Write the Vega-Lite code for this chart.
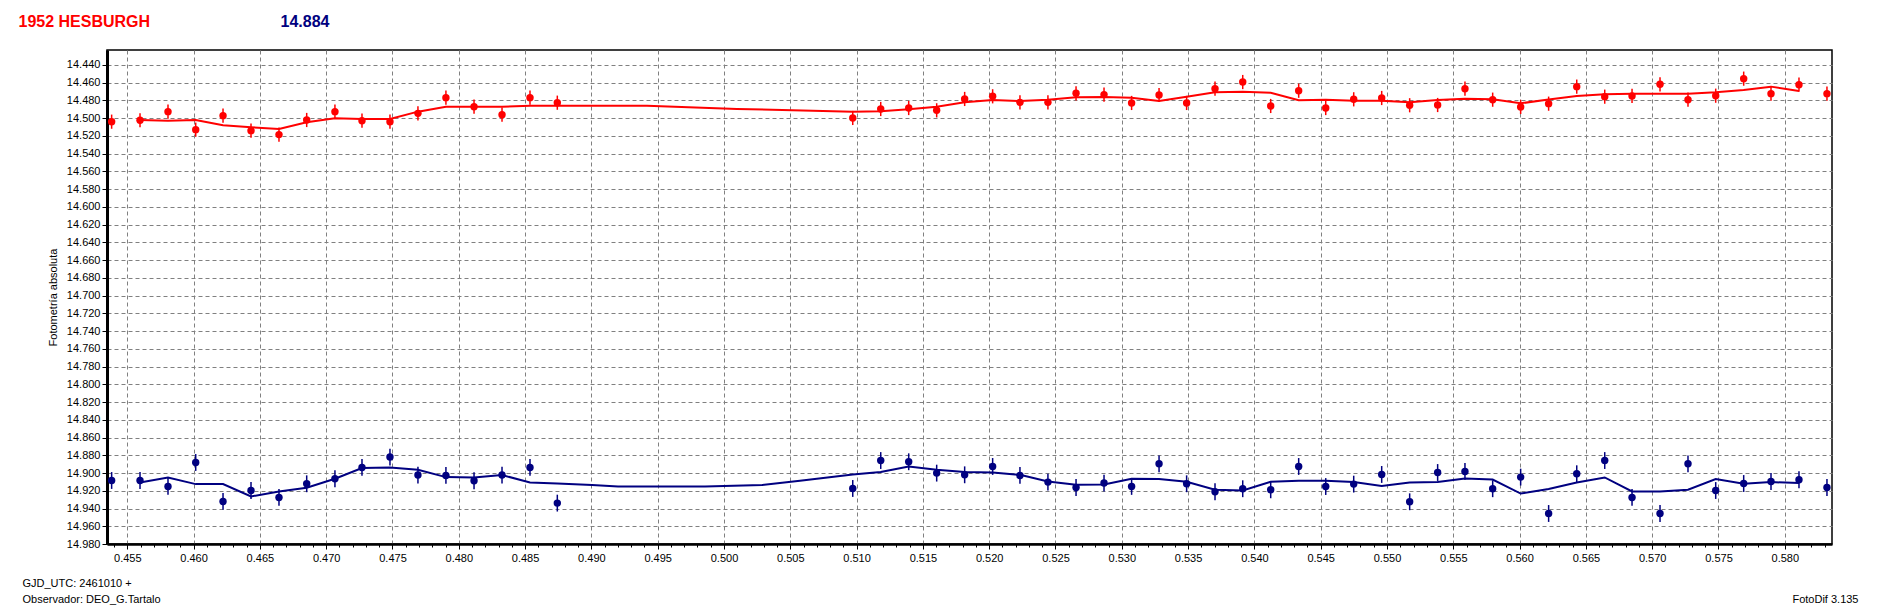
{
  "$schema": "https://vega.github.io/schema/vega-lite/v6.json",
  "width": 1725,
  "height": 494,
  "autosize": {"type": "none"},
  "padding": {"left": 107, "top": 50, "right": 61, "bottom": 66},
  "background": "#ffffff",
  "config": {
    "view": {"stroke": "#000000", "strokeWidth": 1.5},
    "font": "Liberation Sans",
    "axis": {"grid": false, "labelFont": "Liberation Sans", "titleFont": "Liberation Sans", "labelColor": "#000000", "titleColor": "#000000", "tickColor": "#000000", "domainColor": "#000000"}
  },
  "datasets": {
    "puntos": [
      {"t": 0.45382, "mag": 14.5039, "err": 0.008, "serie": "1952 Hesburgh"},
      {"t": 0.45596, "mag": 14.5023, "err": 0.008, "serie": "1952 Hesburgh"},
      {"t": 0.45807, "mag": 14.4926, "err": 0.008, "serie": "1952 Hesburgh"},
      {"t": 0.46016, "mag": 14.5129, "err": 0.008, "serie": "1952 Hesburgh"},
      {"t": 0.46222, "mag": 14.4971, "err": 0.008, "serie": "1952 Hesburgh"},
      {"t": 0.46433, "mag": 14.5140, "err": 0.008, "serie": "1952 Hesburgh"},
      {"t": 0.46644, "mag": 14.5185, "err": 0.008, "serie": "1952 Hesburgh"},
      {"t": 0.46853, "mag": 14.5020, "err": 0.008, "serie": "1952 Hesburgh"},
      {"t": 0.47066, "mag": 14.4926, "err": 0.008, "serie": "1952 Hesburgh"},
      {"t": 0.47270, "mag": 14.5028, "err": 0.008, "serie": "1952 Hesburgh"},
      {"t": 0.47481, "mag": 14.5039, "err": 0.008, "serie": "1952 Hesburgh"},
      {"t": 0.47692, "mag": 14.4945, "err": 0.008, "serie": "1952 Hesburgh"},
      {"t": 0.47903, "mag": 14.4768, "err": 0.008, "serie": "1952 Hesburgh"},
      {"t": 0.48115, "mag": 14.4870, "err": 0.008, "serie": "1952 Hesburgh"},
      {"t": 0.48326, "mag": 14.4960, "err": 0.008, "serie": "1952 Hesburgh"},
      {"t": 0.48537, "mag": 14.4768, "err": 0.008, "serie": "1952 Hesburgh"},
      {"t": 0.48743, "mag": 14.4825, "err": 0.008, "serie": "1952 Hesburgh"},
      {"t": 0.50971, "mag": 14.4997, "err": 0.008, "serie": "1952 Hesburgh"},
      {"t": 0.51182, "mag": 14.4896, "err": 0.008, "serie": "1952 Hesburgh"},
      {"t": 0.51393, "mag": 14.4885, "err": 0.008, "serie": "1952 Hesburgh"},
      {"t": 0.51604, "mag": 14.4911, "err": 0.008, "serie": "1952 Hesburgh"},
      {"t": 0.51815, "mag": 14.4783, "err": 0.008, "serie": "1952 Hesburgh"},
      {"t": 0.52026, "mag": 14.4753, "err": 0.008, "serie": "1952 Hesburgh"},
      {"t": 0.52232, "mag": 14.4821, "err": 0.008, "serie": "1952 Hesburgh"},
      {"t": 0.52443, "mag": 14.4821, "err": 0.008, "serie": "1952 Hesburgh"},
      {"t": 0.52655, "mag": 14.4719, "err": 0.008, "serie": "1952 Hesburgh"},
      {"t": 0.52866, "mag": 14.4734, "err": 0.008, "serie": "1952 Hesburgh"},
      {"t": 0.53074, "mag": 14.4828, "err": 0.008, "serie": "1952 Hesburgh"},
      {"t": 0.53281, "mag": 14.4738, "err": 0.008, "serie": "1952 Hesburgh"},
      {"t": 0.53489, "mag": 14.4828, "err": 0.008, "serie": "1952 Hesburgh"},
      {"t": 0.53703, "mag": 14.4667, "err": 0.008, "serie": "1952 Hesburgh"},
      {"t": 0.53912, "mag": 14.4592, "err": 0.008, "serie": "1952 Hesburgh"},
      {"t": 0.54123, "mag": 14.4862, "err": 0.008, "serie": "1952 Hesburgh"},
      {"t": 0.54334, "mag": 14.4690, "err": 0.008, "serie": "1952 Hesburgh"},
      {"t": 0.54538, "mag": 14.4885, "err": 0.008, "serie": "1952 Hesburgh"},
      {"t": 0.54749, "mag": 14.4787, "err": 0.008, "serie": "1952 Hesburgh"},
      {"t": 0.54960, "mag": 14.4772, "err": 0.008, "serie": "1952 Hesburgh"},
      {"t": 0.55171, "mag": 14.4854, "err": 0.008, "serie": "1952 Hesburgh"},
      {"t": 0.55382, "mag": 14.4851, "err": 0.008, "serie": "1952 Hesburgh"},
      {"t": 0.55588, "mag": 14.4667, "err": 0.008, "serie": "1952 Hesburgh"},
      {"t": 0.55797, "mag": 14.4791, "err": 0.008, "serie": "1952 Hesburgh"},
      {"t": 0.56008, "mag": 14.4873, "err": 0.008, "serie": "1952 Hesburgh"},
      {"t": 0.56219, "mag": 14.4836, "err": 0.008, "serie": "1952 Hesburgh"},
      {"t": 0.56431, "mag": 14.4644, "err": 0.008, "serie": "1952 Hesburgh"},
      {"t": 0.56642, "mag": 14.4757, "err": 0.008, "serie": "1952 Hesburgh"},
      {"t": 0.56848, "mag": 14.4749, "err": 0.008, "serie": "1952 Hesburgh"},
      {"t": 0.57059, "mag": 14.4618, "err": 0.008, "serie": "1952 Hesburgh"},
      {"t": 0.57270, "mag": 14.4791, "err": 0.008, "serie": "1952 Hesburgh"},
      {"t": 0.57479, "mag": 14.4746, "err": 0.008, "serie": "1952 Hesburgh"},
      {"t": 0.57690, "mag": 14.4554, "err": 0.008, "serie": "1952 Hesburgh"},
      {"t": 0.57896, "mag": 14.4723, "err": 0.008, "serie": "1952 Hesburgh"},
      {"t": 0.58107, "mag": 14.4622, "err": 0.008, "serie": "1952 Hesburgh"},
      {"t": 0.58318, "mag": 14.4723, "err": 0.008, "serie": "1952 Hesburgh"},
      {"t": 0.45382, "mag": 14.9084, "err": 0.0095, "serie": "Comparación"},
      {"t": 0.45596, "mag": 14.9084, "err": 0.0095, "serie": "Comparación"},
      {"t": 0.45807, "mag": 14.9151, "err": 0.0095, "serie": "Comparación"},
      {"t": 0.46016, "mag": 14.8881, "err": 0.0095, "serie": "Comparación"},
      {"t": 0.46222, "mag": 14.9320, "err": 0.0095, "serie": "Comparación"},
      {"t": 0.46433, "mag": 14.9197, "err": 0.0095, "serie": "Comparación"},
      {"t": 0.46644, "mag": 14.9275, "err": 0.0095, "serie": "Comparación"},
      {"t": 0.46853, "mag": 14.9121, "err": 0.0095, "serie": "Comparación"},
      {"t": 0.47066, "mag": 14.9065, "err": 0.0095, "serie": "Comparación"},
      {"t": 0.47270, "mag": 14.8937, "err": 0.0095, "serie": "Comparación"},
      {"t": 0.47481, "mag": 14.8820, "err": 0.0095, "serie": "Comparación"},
      {"t": 0.47692, "mag": 14.9023, "err": 0.0095, "serie": "Comparación"},
      {"t": 0.47903, "mag": 14.9027, "err": 0.0095, "serie": "Comparación"},
      {"t": 0.48115, "mag": 14.9087, "err": 0.0095, "serie": "Comparación"},
      {"t": 0.48326, "mag": 14.9023, "err": 0.0095, "serie": "Comparación"},
      {"t": 0.48537, "mag": 14.8937, "err": 0.0095, "serie": "Comparación"},
      {"t": 0.48743, "mag": 14.9339, "err": 0.0095, "serie": "Comparación"},
      {"t": 0.50971, "mag": 14.9174, "err": 0.0095, "serie": "Comparación"},
      {"t": 0.51182, "mag": 14.8859, "err": 0.0095, "serie": "Comparación"},
      {"t": 0.51393, "mag": 14.8873, "err": 0.0095, "serie": "Comparación"},
      {"t": 0.51604, "mag": 14.9001, "err": 0.0095, "serie": "Comparación"},
      {"t": 0.51815, "mag": 14.9020, "err": 0.0095, "serie": "Comparación"},
      {"t": 0.52026, "mag": 14.8926, "err": 0.0095, "serie": "Comparación"},
      {"t": 0.52232, "mag": 14.9027, "err": 0.0095, "serie": "Comparación"},
      {"t": 0.52443, "mag": 14.9102, "err": 0.0095, "serie": "Comparación"},
      {"t": 0.52655, "mag": 14.9163, "err": 0.0095, "serie": "Comparación"},
      {"t": 0.52866, "mag": 14.9113, "err": 0.0095, "serie": "Comparación"},
      {"t": 0.53074, "mag": 14.9151, "err": 0.0095, "serie": "Comparación"},
      {"t": 0.53281, "mag": 14.8896, "err": 0.0095, "serie": "Comparación"},
      {"t": 0.53489, "mag": 14.9121, "err": 0.0095, "serie": "Comparación"},
      {"t": 0.53703, "mag": 14.9211, "err": 0.0095, "serie": "Comparación"},
      {"t": 0.53912, "mag": 14.9177, "err": 0.0095, "serie": "Comparación"},
      {"t": 0.54123, "mag": 14.9189, "err": 0.0095, "serie": "Comparación"},
      {"t": 0.54334, "mag": 14.8926, "err": 0.0095, "serie": "Comparación"},
      {"t": 0.54538, "mag": 14.9152, "err": 0.0095, "serie": "Comparación"},
      {"t": 0.54749, "mag": 14.9125, "err": 0.0095, "serie": "Comparación"},
      {"t": 0.54960, "mag": 14.9016, "err": 0.0095, "serie": "Comparación"},
      {"t": 0.55171, "mag": 14.9324, "err": 0.0095, "serie": "Comparación"},
      {"t": 0.55382, "mag": 14.8994, "err": 0.0095, "serie": "Comparación"},
      {"t": 0.55588, "mag": 14.8982, "err": 0.0095, "serie": "Comparación"},
      {"t": 0.55797, "mag": 14.9177, "err": 0.0095, "serie": "Comparación"},
      {"t": 0.56008, "mag": 14.9046, "err": 0.0095, "serie": "Comparación"},
      {"t": 0.56219, "mag": 14.9456, "err": 0.0095, "serie": "Comparación"},
      {"t": 0.56431, "mag": 14.9008, "err": 0.0095, "serie": "Comparación"},
      {"t": 0.56642, "mag": 14.8859, "err": 0.0095, "serie": "Comparación"},
      {"t": 0.56848, "mag": 14.9275, "err": 0.0095, "serie": "Comparación"},
      {"t": 0.57059, "mag": 14.9456, "err": 0.0095, "serie": "Comparación"},
      {"t": 0.57270, "mag": 14.8896, "err": 0.0095, "serie": "Comparación"},
      {"t": 0.57479, "mag": 14.9197, "err": 0.0095, "serie": "Comparación"},
      {"t": 0.57690, "mag": 14.9118, "err": 0.0095, "serie": "Comparación"},
      {"t": 0.57896, "mag": 14.9095, "err": 0.0095, "serie": "Comparación"},
      {"t": 0.58107, "mag": 14.9076, "err": 0.0095, "serie": "Comparación"},
      {"t": 0.58318, "mag": 14.9163, "err": 0.0095, "serie": "Comparación"}
    ],
    "curva": [
      {"t": 0.45596, "mag": 14.5020, "serie": "1952 Hesburgh"},
      {"t": 0.45807, "mag": 14.5028, "serie": "1952 Hesburgh"},
      {"t": 0.46016, "mag": 14.5020, "serie": "1952 Hesburgh"},
      {"t": 0.46222, "mag": 14.5080, "serie": "1952 Hesburgh"},
      {"t": 0.46433, "mag": 14.5102, "serie": "1952 Hesburgh"},
      {"t": 0.46644, "mag": 14.5121, "serie": "1952 Hesburgh"},
      {"t": 0.46853, "mag": 14.5046, "serie": "1952 Hesburgh"},
      {"t": 0.47066, "mag": 14.5001, "serie": "1952 Hesburgh"},
      {"t": 0.47270, "mag": 14.5008, "serie": "1952 Hesburgh"},
      {"t": 0.47481, "mag": 14.5008, "serie": "1952 Hesburgh"},
      {"t": 0.47692, "mag": 14.4926, "serie": "1952 Hesburgh"},
      {"t": 0.47903, "mag": 14.4870, "serie": "1952 Hesburgh"},
      {"t": 0.48115, "mag": 14.4870, "serie": "1952 Hesburgh"},
      {"t": 0.48326, "mag": 14.4870, "serie": "1952 Hesburgh"},
      {"t": 0.48537, "mag": 14.4859, "serie": "1952 Hesburgh"},
      {"t": 0.48743, "mag": 14.4859, "serie": "1952 Hesburgh"},
      {"t": 0.49419, "mag": 14.4859, "serie": "1952 Hesburgh"},
      {"t": 0.50098, "mag": 14.4896, "serie": "1952 Hesburgh"},
      {"t": 0.50746, "mag": 14.4918, "serie": "1952 Hesburgh"},
      {"t": 0.50971, "mag": 14.4926, "serie": "1952 Hesburgh"},
      {"t": 0.51182, "mag": 14.4922, "serie": "1952 Hesburgh"},
      {"t": 0.51393, "mag": 14.4899, "serie": "1952 Hesburgh"},
      {"t": 0.51604, "mag": 14.4870, "serie": "1952 Hesburgh"},
      {"t": 0.51815, "mag": 14.4821, "serie": "1952 Hesburgh"},
      {"t": 0.52026, "mag": 14.4794, "serie": "1952 Hesburgh"},
      {"t": 0.52232, "mag": 14.4806, "serie": "1952 Hesburgh"},
      {"t": 0.52443, "mag": 14.4791, "serie": "1952 Hesburgh"},
      {"t": 0.52655, "mag": 14.4764, "serie": "1952 Hesburgh"},
      {"t": 0.52866, "mag": 14.4760, "serie": "1952 Hesburgh"},
      {"t": 0.53074, "mag": 14.4768, "serie": "1952 Hesburgh"},
      {"t": 0.53281, "mag": 14.4806, "serie": "1952 Hesburgh"},
      {"t": 0.53489, "mag": 14.4757, "serie": "1952 Hesburgh"},
      {"t": 0.53703, "mag": 14.4708, "serie": "1952 Hesburgh"},
      {"t": 0.53912, "mag": 14.4701, "serie": "1952 Hesburgh"},
      {"t": 0.54123, "mag": 14.4712, "serie": "1952 Hesburgh"},
      {"t": 0.54334, "mag": 14.4798, "serie": "1952 Hesburgh"},
      {"t": 0.54538, "mag": 14.4791, "serie": "1952 Hesburgh"},
      {"t": 0.54749, "mag": 14.4802, "serie": "1952 Hesburgh"},
      {"t": 0.54960, "mag": 14.4802, "serie": "1952 Hesburgh"},
      {"t": 0.55171, "mag": 14.4821, "serie": "1952 Hesburgh"},
      {"t": 0.55382, "mag": 14.4794, "serie": "1952 Hesburgh"},
      {"t": 0.55588, "mag": 14.4780, "serie": "1952 Hesburgh"},
      {"t": 0.55797, "mag": 14.4787, "serie": "1952 Hesburgh"},
      {"t": 0.56008, "mag": 14.4832, "serie": "1952 Hesburgh"},
      {"t": 0.56219, "mag": 14.4790, "serie": "1952 Hesburgh"},
      {"t": 0.56431, "mag": 14.4749, "serie": "1952 Hesburgh"},
      {"t": 0.56642, "mag": 14.4730, "serie": "1952 Hesburgh"},
      {"t": 0.56848, "mag": 14.4723, "serie": "1952 Hesburgh"},
      {"t": 0.57059, "mag": 14.4723, "serie": "1952 Hesburgh"},
      {"t": 0.57270, "mag": 14.4723, "serie": "1952 Hesburgh"},
      {"t": 0.57479, "mag": 14.4708, "serie": "1952 Hesburgh"},
      {"t": 0.57690, "mag": 14.4682, "serie": "1952 Hesburgh"},
      {"t": 0.57896, "mag": 14.4644, "serie": "1952 Hesburgh"},
      {"t": 0.58107, "mag": 14.4693, "serie": "1952 Hesburgh"},
      {"t": 0.45596, "mag": 14.9106, "serie": "Comparación"},
      {"t": 0.45807, "mag": 14.9050, "serie": "Comparación"},
      {"t": 0.46016, "mag": 14.9125, "serie": "Comparación"},
      {"t": 0.46222, "mag": 14.9125, "serie": "Comparación"},
      {"t": 0.46433, "mag": 14.9264, "serie": "Comparación"},
      {"t": 0.46644, "mag": 14.9208, "serie": "Comparación"},
      {"t": 0.46853, "mag": 14.9166, "serie": "Comparación"},
      {"t": 0.47066, "mag": 14.9065, "serie": "Comparación"},
      {"t": 0.47270, "mag": 14.8944, "serie": "Comparación"},
      {"t": 0.47481, "mag": 14.8937, "serie": "Comparación"},
      {"t": 0.47692, "mag": 14.8963, "serie": "Comparación"},
      {"t": 0.47903, "mag": 14.9046, "serie": "Comparación"},
      {"t": 0.48115, "mag": 14.9050, "serie": "Comparación"},
      {"t": 0.48326, "mag": 14.9023, "serie": "Comparación"},
      {"t": 0.48537, "mag": 14.9106, "serie": "Comparación"},
      {"t": 0.48743, "mag": 14.9118, "serie": "Comparación"},
      {"t": 0.49005, "mag": 14.9136, "serie": "Comparación"},
      {"t": 0.49201, "mag": 14.9152, "serie": "Comparación"},
      {"t": 0.49857, "mag": 14.9152, "serie": "Comparación"},
      {"t": 0.50287, "mag": 14.9136, "serie": "Comparación"},
      {"t": 0.50573, "mag": 14.9087, "serie": "Comparación"},
      {"t": 0.50971, "mag": 14.9016, "serie": "Comparación"},
      {"t": 0.51182, "mag": 14.8988, "serie": "Comparación"},
      {"t": 0.51393, "mag": 14.8926, "serie": "Comparación"},
      {"t": 0.51604, "mag": 14.8963, "serie": "Comparación"},
      {"t": 0.51815, "mag": 14.8989, "serie": "Comparación"},
      {"t": 0.52026, "mag": 14.8993, "serie": "Comparación"},
      {"t": 0.52232, "mag": 14.9020, "serie": "Comparación"},
      {"t": 0.52443, "mag": 14.9095, "serie": "Comparación"},
      {"t": 0.52655, "mag": 14.9132, "serie": "Comparación"},
      {"t": 0.52866, "mag": 14.9129, "serie": "Comparación"},
      {"t": 0.53074, "mag": 14.9065, "serie": "Comparación"},
      {"t": 0.53281, "mag": 14.9068, "serie": "Comparación"},
      {"t": 0.53489, "mag": 14.9099, "serie": "Comparación"},
      {"t": 0.53703, "mag": 14.9189, "serie": "Comparación"},
      {"t": 0.53912, "mag": 14.9197, "serie": "Comparación"},
      {"t": 0.54123, "mag": 14.9099, "serie": "Comparación"},
      {"t": 0.54334, "mag": 14.9087, "serie": "Comparación"},
      {"t": 0.54538, "mag": 14.9087, "serie": "Comparación"},
      {"t": 0.54749, "mag": 14.9102, "serie": "Comparación"},
      {"t": 0.54960, "mag": 14.9147, "serie": "Comparación"},
      {"t": 0.55171, "mag": 14.9106, "serie": "Comparación"},
      {"t": 0.55382, "mag": 14.9102, "serie": "Comparación"},
      {"t": 0.55588, "mag": 14.9061, "serie": "Comparación"},
      {"t": 0.55797, "mag": 14.9073, "serie": "Comparación"},
      {"t": 0.56008, "mag": 14.9231, "serie": "Comparación"},
      {"t": 0.56219, "mag": 14.9181, "serie": "Comparación"},
      {"t": 0.56431, "mag": 14.9106, "serie": "Comparación"},
      {"t": 0.56642, "mag": 14.9050, "serie": "Comparación"},
      {"t": 0.56848, "mag": 14.9208, "serie": "Comparación"},
      {"t": 0.57059, "mag": 14.9208, "serie": "Comparación"},
      {"t": 0.57270, "mag": 14.9189, "serie": "Comparación"},
      {"t": 0.57479, "mag": 14.9068, "serie": "Comparación"},
      {"t": 0.57690, "mag": 14.9121, "serie": "Comparación"},
      {"t": 0.57896, "mag": 14.9102, "serie": "Comparación"},
      {"t": 0.58107, "mag": 14.9113, "serie": "Comparación"}
    ]
  },
  "resolve": {"axis": {"x": "independent", "y": "independent"}},
  "layer": [
    {
      "data": {"name": "curva"},
      "mark": {"type": "line", "strokeWidth": 2, "interpolate": "linear"},
      "encoding": {
        "x": {
          "field": "t", "type": "quantitative",
          "scale": {"domain": [0.45347, 0.58356], "nice": false, "zero": false},
          "axis": {
            "orient": "bottom", "tickCount": 130, "labels": false, "grid": false, "domain": false,
            "ticks": true, "tickSize": 3, "tickWidth": 1,
            "title": "FotoDif 3.135", "titleX": 1751, "titleY": 58.5, "titleAlign": "right", "titleBaseline": "alphabetic",
            "titleFontSize": 11, "titleFontWeight": "normal"
          }
        },
        "y": {
          "field": "mag", "type": "quantitative",
          "scale": {"domain": [14.4231, 14.98], "reverse": true, "nice": false, "zero": false},
          "axis": {
            "orient": "right", "labels": false, "ticks": false, "domain": false, "grid": false,
            "title": "14.884", "titleAngle": 0, "titleX": -1552, "titleY": -24, "titleAlign": "left", "titleBaseline": "alphabetic",
            "titleColor": "#000080", "titleFontSize": 16, "titleFontWeight": "bold"
          }
        },
        "color": {"field": "serie", "type": "nominal", "scale": {"domain": ["1952 Hesburgh", "Comparación"], "range": ["#ff0000", "#000080"]}, "legend": null}
      }
    },
    {
      "data": {"name": "puntos"},
      "mark": {"type": "errorbar", "thickness": 1.5},
      "encoding": {
        "x": {
          "field": "t", "type": "quantitative",
          "scale": {"domain": [0.45347, 0.58356], "nice": false, "zero": false},
          "axis": {
            "orient": "top", "labels": false, "ticks": false, "domain": false, "grid": false,
            "title": "1952 HESBURGH", "titleX": -89, "titleY": -24, "titleAlign": "left", "titleBaseline": "alphabetic",
            "titleColor": "#ff0000", "titleFontSize": 16, "titleFontWeight": "bold"
          }
        },
        "y": {
          "field": "mag", "type": "quantitative",
          "scale": {"domain": [14.4231, 14.98], "reverse": true, "nice": false, "zero": false},
          "axis": null
        },
        "yError": {"field": "err"},
        "color": {"field": "serie", "type": "nominal", "scale": {"domain": ["1952 Hesburgh", "Comparación"], "range": ["#ff0000", "#000080"]}, "legend": null}
      }
    },
    {
      "data": {"name": "puntos"},
      "mark": {"type": "circle", "size": 55, "opacity": 1},
      "encoding": {
        "x": {
          "field": "t", "type": "quantitative",
          "scale": {"domain": [0.45347, 0.58356], "nice": false, "zero": false},
          "axis": {
            "orient": "bottom",
            "values": [0.455, 0.46, 0.465, 0.47, 0.475, 0.48, 0.485, 0.49, 0.495, 0.5, 0.505, 0.51, 0.515, 0.52, 0.525, 0.53, 0.535, 0.54, 0.545, 0.55, 0.555, 0.56, 0.565, 0.57, 0.575, 0.58],
            "format": ".3f", "labelFontSize": 11, "labelPadding": 3, "labelFlush": false, "labelOverlap": false,
            "tickSize": 5, "tickWidth": 1, "domainWidth": 2.5,
            "grid": true, "gridColor": "#808080", "gridDash": [4, 3], "gridWidth": 1, "gridOpacity": 1,
            "title": ["GJD_UTC: 2461010 +", "Observador: DEO_G.Tartalo"], "titleX": -85, "titleY": 42, "titleAlign": "left",
            "titleBaseline": "alphabetic", "titleLineHeight": 16.5, "titleFontSize": 11, "titleFontWeight": "normal"
          }
        },
        "y": {
          "field": "mag", "type": "quantitative",
          "scale": {"domain": [14.4231, 14.98], "reverse": true, "nice": false, "zero": false},
          "axis": {
            "orient": "left",
            "values": [14.44, 14.46, 14.48, 14.5, 14.52, 14.54, 14.56, 14.58, 14.6, 14.62, 14.64, 14.66, 14.68, 14.7, 14.72, 14.74, 14.76, 14.78, 14.8, 14.82, 14.84, 14.86, 14.88, 14.9, 14.92, 14.94, 14.96, 14.98],
            "format": ".3f", "labelFontSize": 11, "labelPadding": 2, "labelOverlap": false, "labelFlush": false,
            "tickSize": 5, "tickWidth": 1, "domainWidth": 3,
            "grid": true, "gridColor": "#808080", "gridDash": [4, 3], "gridWidth": 1, "gridOpacity": 1,
            "title": "Fotometría absoluta", "titleX": -54, "titleAngle": -90, "titleBaseline": "middle",
            "titleFontSize": 11, "titleFontWeight": "normal"
          }
        },
        "color": {"field": "serie", "type": "nominal", "scale": {"domain": ["1952 Hesburgh", "Comparación"], "range": ["#ff0000", "#000080"]}, "legend": null}
      }
    }
  ]
}
